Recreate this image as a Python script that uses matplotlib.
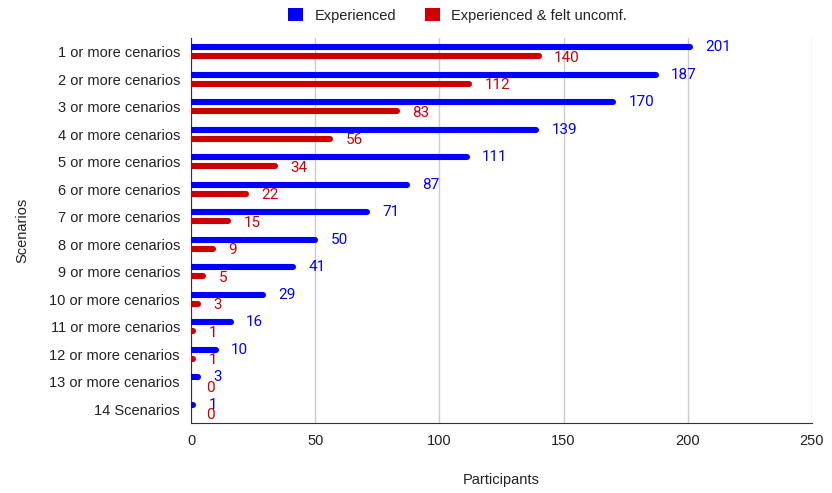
import matplotlib
matplotlib.use("Agg")
import matplotlib.pyplot as plt
import numpy as np
from matplotlib.patches import Patch
from matplotlib.font_manager import FontProperties

plt.rcParams['font.family'] = ['Liberation Sans', 'DejaVu Sans']

categories = ["1 or more cenarios", "2 or more cenarios", "3 or more cenarios",
              "4 or more cenarios", "5 or more cenarios", "6 or more cenarios",
              "7 or more cenarios", "8 or more cenarios", "9 or more cenarios",
              "10 or more cenarios", "11 or more cenarios", "12 or more cenarios",
              "13 or more cenarios", "14 Scenarios"]
experienced = [201, 187, 170, 139, 111, 87, 71, 50, 41, 29, 16, 10, 3, 1]
uncomf = [140, 112, 83, 56, 34, 22, 15, 9, 5, 3, 1, 1, 0, 0]
xticks = [0, 50, 100, 150, 200, 250]

blue = "#0000ff"
red = "#cc0000"

fig = plt.figure(figsize=(8.32, 4.93), dpi=100)
ax = fig.add_axes([191/832, (493-423)/493, (812-191)/832, (423-38)/493])

y = np.arange(len(categories))
off = 0.16
lw = 4.4
lc1 = ax.hlines(y - off, 0, experienced, colors=blue,
                linewidths=[lw if v > 0 else 0 for v in experienced], zorder=3)
lc2 = ax.hlines(y + off, 0, uncomf, colors=red,
                linewidths=[lw if v > 0 else 0 for v in uncomf], zorder=3)
for lc in (lc1, lc2):
    lc.set_capstyle('round')

vfont = FontProperties(family='Roboto', stretch='normal', weight='normal', size=11)
for yi, v in zip(y, experienced):
    ax.annotate(str(v), (v, yi - off), xytext=(11, 0), textcoords='offset points',
                ha='left', va='center', color=blue, fontproperties=vfont)
for yi, v in zip(y, uncomf):
    ax.annotate(str(v), (v, yi + off + 0.06), xytext=(11, 0), textcoords='offset points',
                ha='left', va='center', color=red, fontproperties=vfont)

ax.set_ylim(len(categories) - 0.5, -0.5)
ax.set_xlim(0, 250)
ax.set_xticks(xticks)
ax.set_yticks(y)
ax.set_yticklabels(categories)
ax.tick_params(axis='both', length=0, labelsize=10.5, colors='#222222')
ax.tick_params(axis='y', pad=8)
ax.tick_params(axis='x', pad=8)
ax.grid(axis='x', color='#cccccc', linewidth=1, zorder=0)
ax.set_axisbelow(True)
for s in ['top', 'right']:
    ax.spines[s].set_visible(False)
ax.spines['left'].set_color('#333333')
ax.spines['bottom'].set_color('#333333')
ax.set_xlabel("Participants", fontsize=10.5, color='#222222', labelpad=18)
ax.set_ylabel("Scenarios", fontsize=10.5, color='#222222', labelpad=14)

handles = [Patch(facecolor=blue, label="Experienced"),
           Patch(facecolor=red, label="Experienced & felt uncomf.")]
fig.legend(handles=handles, loc='upper center', bbox_to_anchor=(0.55, 1.01), ncol=2,
           frameon=False, fontsize=10.5, handlelength=1.0, handleheight=1.0,
           columnspacing=2.0, handletextpad=0.8, labelcolor='#222222')

fig.savefig("out.png", dpi=100)
